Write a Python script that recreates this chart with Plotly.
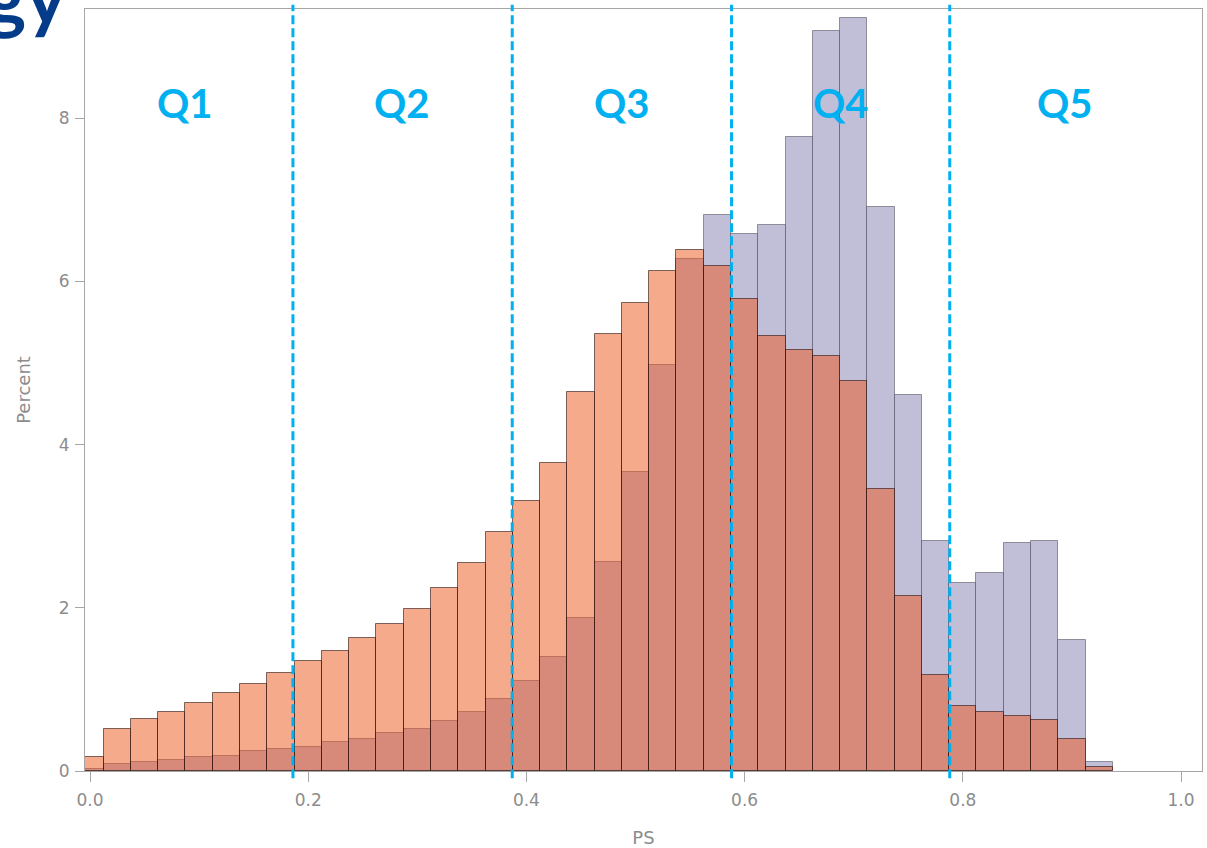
import plotly.graph_objects as go

# Propensity-score histogram: bin centres (width 0.025) and percent per bin
bin_centers = [0.000, 0.025, 0.050, 0.075, 0.100, 0.125, 0.150, 0.175, 0.200, 0.225,
               0.250, 0.275, 0.300, 0.325, 0.350, 0.375, 0.400, 0.425, 0.450, 0.475,
               0.500, 0.525, 0.550, 0.575, 0.600, 0.625, 0.650, 0.675, 0.700, 0.725,
               0.750, 0.775, 0.800, 0.825, 0.850, 0.875, 0.900, 0.925]
bin_width = 0.025

pct_purple = [0.02, 0.086, 0.11, 0.14, 0.175, 0.19, 0.24, 0.27, 0.30, 0.35,
              0.39, 0.46, 0.515, 0.61, 0.72, 0.88, 1.10, 1.40, 1.87, 2.56,
              3.67, 4.98, 6.27, 6.81, 6.58, 6.69, 7.77, 9.07, 9.23, 6.91,
              4.61, 2.82, 2.31, 2.43, 2.79, 2.82, 1.60, 0.107]

pct_orange = [0.17, 0.515, 0.64, 0.72, 0.83, 0.96, 1.07, 1.20, 1.35, 1.47,
              1.63, 1.80, 1.99, 2.24, 2.55, 2.93, 3.31, 3.78, 4.65, 5.36,
              5.74, 6.13, 6.39, 6.19, 5.78, 5.33, 5.16, 5.09, 4.78, 3.46,
              2.14, 1.18, 0.80, 0.72, 0.67, 0.625, 0.39, 0.045]

# Quintile cut points and labels
quintile_cuts = [0.186, 0.387, 0.588, 0.788]
quintile_labels = ["Q1", "Q2", "Q3", "Q4", "Q5"]
quintile_label_x = [0.087, 0.286, 0.4875, 0.688, 0.894]
quintile_label_y = 8.19

x_ticks = [0.0, 0.2, 0.4, 0.6, 0.8, 1.0]
y_ticks = [0, 2, 4, 6, 8]

fig = go.Figure()

fig.add_trace(go.Bar(
    x=bin_centers, y=pct_purple, width=bin_width,
    marker=dict(color="rgb(193,191,216)",
                line=dict(color="rgba(60,55,75,0.5)", width=1)),
    showlegend=False,
))
fig.add_trace(go.Bar(
    x=bin_centers, y=pct_orange, width=bin_width,
    marker=dict(color="rgba(237,85,25,0.5)",
                line=dict(color="rgba(40,15,15,0.6)", width=1)),
    showlegend=False,
))

# Dashed quintile boundaries
for xc in quintile_cuts:
    fig.add_shape(type="line", xref="x", yref="paper",
                  x0=xc, x1=xc, y0=-0.0095, y1=1.0055,
                  line=dict(color="#00B0F0", width=3, dash="9px,4px"),
                  layer="above")

for lab, xl in zip(quintile_labels, quintile_label_x):
    fig.add_annotation(x=xl, y=quintile_label_y, xref="x", yref="y",
                       text=f"<b>{lab}</b>", showarrow=False,
                       xanchor="center", yanchor="middle",
                       font=dict(family="Lato", size=40, color="#00B0F0"))

# Tail of the slide heading, running off the top-left corner
fig.add_annotation(x=-0.0143, y=0.957, xref="paper", yref="paper",
                   text="<b>gy</b>", showarrow=False,
                   xanchor="right", yanchor="bottom",
                   font=dict(family="Lato", size=76, color="#043C8A"))

axis_font = dict(family="DejaVu Sans", size=17, color="#8c8c8c")

fig.update_layout(
    width=1207, height=848,
    margin=dict(l=85, r=5, t=9, b=77),
    paper_bgcolor="white", plot_bgcolor="white",
    barmode="overlay", bargap=0,
    xaxis=dict(range=[-0.00458, 1.0192], tickvals=x_ticks, tickformat=".1f",
               ticks="outside", ticklen=10, tickcolor="#a6a6a6",
               ticklabelstandoff=4, automargin=False,
               showline=True, linecolor="#a6a6a6", linewidth=1, mirror=True,
               showgrid=False, zeroline=False, tickfont=axis_font,
               title=dict(text="PS", font=dict(family="DejaVu Sans", size=18, color="#8c8c8c"),
                          standoff=22)),
    yaxis=dict(range=[0, 9.34], tickvals=y_ticks,
               ticks="outside", ticklen=9, tickcolor="#a6a6a6",
               ticklabelstandoff=2, automargin=False,
               showline=True, linecolor="#a6a6a6", linewidth=1, mirror=True,
               showgrid=False, zeroline=False, tickfont=axis_font,
               title=dict(text="Percent", font=dict(family="DejaVu Sans", size=18, color="#8c8c8c"),
                          standoff=23)),
)

fig.write_html("out.html")
